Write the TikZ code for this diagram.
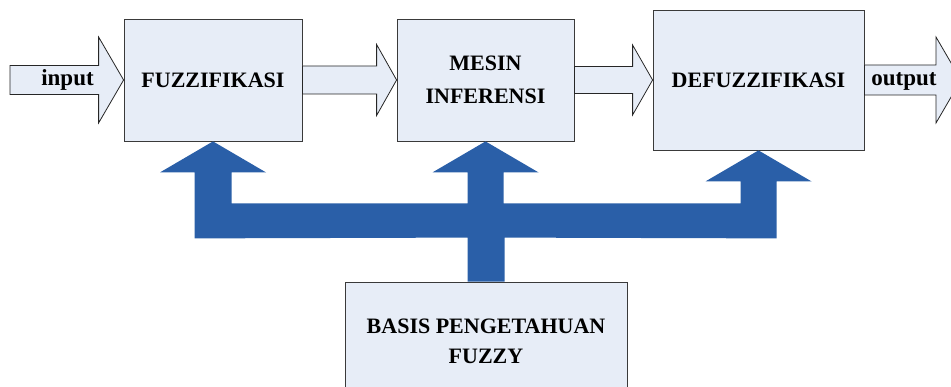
\documentclass[tikz,border=0pt]{standalone}
\usepackage{fontspec}
\setmainfont{Liberation Serif}
\usetikzlibrary{calc}

\definecolor{boxfill}{HTML}{E7EDF7}
\definecolor{boxline}{HTML}{3A3A3A}
\definecolor{kbblue}{HTML}{2A5FA8}

% hollow block arrow: start, tip, shaft half-width, head half-width, head length
\newcommand{\hollowarrow}[5]{%
  \draw[flow] ($(#1)+(0,-#3)$) -- ($(#2)+(-#5,-#3)$) -- ($(#2)+(-#5,-#4)$)
    -- (#2) -- ($(#2)+(-#5,#4)$) -- ($(#2)+(-#5,#3)$) -- ($(#1)+(0,#3)$) -- cycle;}

\begin{document}
\begin{tikzpicture}[x=1pt,y=-1pt,
  stage/.style={draw=boxline,line width=0.8pt,fill=boxfill,inner sep=0pt,
    align=center,font=\bfseries\fontsize{22}{33}\selectfont},
  flow/.style={draw=black!85,line width=0.8pt,fill=boxfill,line join=miter},
  knowledge/.style={fill=kbblue},
  signal/.style={inner sep=0pt,anchor=base,font=\bfseries\fontsize{23}{28}\selectfont}]

\useasboundingbox (0,0) rectangle (951,387);
\clip (0,0) rectangle (951,387);

% processing stages
\node[stage,minimum width=178,minimum height=122] (fuzz) at (213,80) {FUZZIFIKASI};
\node[stage,minimum width=177,minimum height=122] (mesin) at (485.5,80) {MESIN\\INFERENSI};
\node[stage,minimum width=211,minimum height=140] (defuzz) at (758.5,80) {DEFUZZIFIKASI};
\node[stage,minimum width=282,minimum height=118,font=\bfseries\fontsize{22}{30}\selectfont]
  (basis) at (486,341) {BASIS PENGETAHUAN\\FUZZY};

% free ends of the signal arrows
\coordinate (src) at (10,80);
\coordinate (sink) at (961,80);

% signal flow
\hollowarrow{src}{fuzz.west}{14.5}{43}{25}
\hollowarrow{fuzz.east}{mesin.west}{14}{35.5}{20}
\hollowarrow{mesin.east}{defuzz.west}{13.5}{35}{20}
\hollowarrow{defuzz.east}{sink}{15}{43}{25}

\node[signal] (inlabel) at (67.5,85.5) {input};
\node[signal] (outlabel) at (904,86) {output};

% knowledge base feeding all three stages
\fill[knowledge] (fuzz.south) -- ++(53,31) -- ++(-34.5,0) -- ++(0,31)
  -- ($(mesin.south)+(-18,62)$) -- ++(0,-31) -- ++(-35,0) -- (mesin.south)
  -- ++(53,31) -- ++(-35,0) -- ++(0,31)
  -- ($(defuzz.south)+(-18,53)$) -- ++(0,-22) -- ++(-35,0) -- (defuzz.south)
  -- ++(53,31) -- ++(-35,0) -- ++(0,57)
  -- ($(basis.north)+(18.5,-44)$) -- ($(basis.north)+(18.5,0)$)
  -- ($(basis.north)+(-18.5,0)$) -- ++(0,-44)
  -- ($(fuzz.south)+(-18.5,97)$) -- ++(0,-66) -- ++(-34.5,0) -- cycle;

\end{tikzpicture}
\end{document}
